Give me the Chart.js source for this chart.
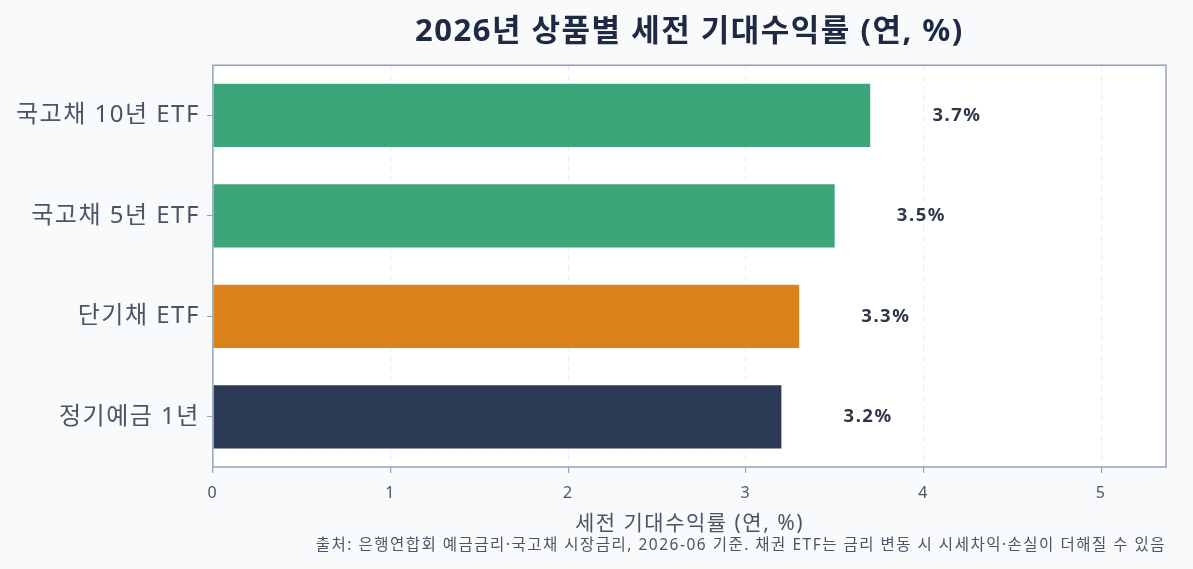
<!DOCTYPE html>
<html lang="ko">
<head>
<meta charset="utf-8">
<script src="https://cdn.jsdelivr.net/npm/chart.js@4/dist/chart.umd.min.js"></script>
<style>
  html, body { margin: 0; padding: 0; background: #f8fafc; }
  #wrap { width: 1193px; height: 569px; }
</style>
</head>
<body>
<div id="wrap"><canvas id="rateChart"></canvas></div>
<script>
// data
const products = ['국고채 10년 ETF', '국고채 5년 ETF', '단기채 ETF', '정기예금 1년'];
const rates = [3.7, 3.5, 3.3, 3.2];
const barColors = ['#3ca67a', '#3ca67a', '#db821b', '#2c3a56'];
const xTicks = [0, 1, 2, 3, 4, 5];
const xMax = 5.365;

const TITLE = '2026년 상품별 세전 기대수익률 (연, %)';
const FONT = "'Noto Sans', 'Noto Sans CJK KR', sans-serif";
const SPACING = '1.5px';

// white plot background, frame, value labels, title over the plot area
const framePlugin = {
  id: 'frame',
  beforeUpdate(chart) { chart.ctx.letterSpacing = SPACING; },
  beforeDraw(chart) {
    const { ctx, chartArea: a } = chart;
    ctx.letterSpacing = SPACING;
    ctx.save();
    ctx.fillStyle = '#ffffff';
    ctx.fillRect(a.left, a.top, a.right - a.left, a.bottom - a.top);
    ctx.restore();
  },
  afterDatasetsDraw(chart) {
    const { ctx, chartArea: a, scales } = chart;
    ctx.save();
    ctx.strokeStyle = '#94a3b8';
    ctx.lineWidth = 1.5;
    ctx.strokeRect(a.left, a.top, a.right - a.left, a.bottom - a.top);
    ctx.font = 'bold 18.5px ' + FONT;
    ctx.fillStyle = '#2d3748';
    ctx.textBaseline = 'middle';
    ctx.textAlign = 'left';
    rates.forEach((v, i) => {
      const x = scales.x.getPixelForValue(v + 0.35);
      const y = scales.y.getPixelForValue(i);
      ctx.fillText(v.toFixed(1) + '%', x, y);
    });
    ctx.restore();
  },
  afterDraw(chart) {
    const { ctx, chartArea: a } = chart;
    const t = chart.titleBlock;
    ctx.save();
    ctx.font = 'bold 31px ' + FONT;
    ctx.fillStyle = '#1e2a44';
    ctx.textAlign = 'center';
    ctx.textBaseline = 'middle';
    ctx.fillText(TITLE, (a.left + a.right) / 2, (t.top + 12 + t.bottom - 14) / 2);
    ctx.restore();
  }
};

new Chart(document.getElementById('rateChart'), {
  type: 'bar',
  data: {
    labels: products,
    datasets: [{
      data: rates,
      backgroundColor: barColors,
      borderWidth: 0,
      categoryPercentage: 1,
      barPercentage: 0.63
    }]
  },
  options: {
    indexAxis: 'y',
    responsive: true,
    maintainAspectRatio: false,
    animation: false,
    layout: { padding: { left: 9, right: 27, top: 2, bottom: 8 } },
    plugins: {
      legend: { display: false },
      tooltip: { enabled: false },
      title: {
        // space only, text drawn in afterDraw
        display: true,
        text: TITLE,
        color: 'rgba(0,0,0,0)',
        font: { family: FONT, size: 31, weight: 'bold' },
        padding: { top: 12, bottom: 14 }
      },
      subtitle: {
        display: true,
        position: 'bottom',
        align: 'end',
        text: '출처: 은행연합회 예금금리·국고채 시장금리, 2026-06 기준. 채권 ETF는 금리 변동 시 시세차익·손실이 더해질 수 있음',
        color: '#4b5563',
        font: { family: FONT, size: 15.5 },
        padding: { top: 0, bottom: 6 }
      }
    },
    scales: {
      x: {
        min: 0,
        max: xMax,
        afterBuildTicks(scale) { scale.ticks = xTicks.map(v => ({ value: v })); },
        grid: { color: '#e8edf3', lineWidth: 1.2, tickColor: '#94a3b8', tickLength: 6 },
        border: { display: false, dash: [6, 4] },
        ticks: { color: '#4b5563', font: { family: FONT, size: 16 }, padding: 11 },
        title: {
          display: true,
          text: '세전 기대수익률 (연, %)',
          color: '#4b5563',
          font: { family: FONT, size: 21 },
          padding: { top: -3, bottom: 0 }
        }
      },
      y: {
        grid: { offset: false, drawOnChartArea: false, tickColor: '#94a3b8', tickLength: 6 },
        border: { display: false },
        ticks: { color: '#4b5563', font: { family: FONT, size: 24 }, padding: 7 }
      }
    }
  },
  plugins: [framePlugin]
});
</script>
</body>
</html>
